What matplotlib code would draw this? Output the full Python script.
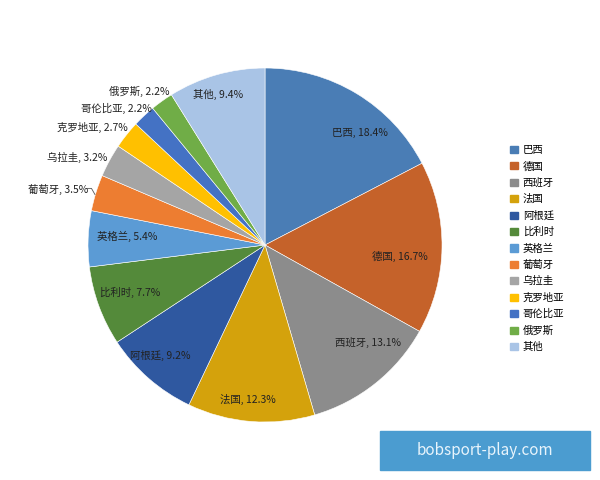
import numpy as np
import matplotlib
matplotlib.use('Agg')
import matplotlib.pyplot as plt
from matplotlib.patches import Rectangle

plt.rcParams['font.family'] = ['Noto Sans CJK SC', 'DejaVu Sans']

COUNTRIES = ['巴西', '德国', '西班牙', '法国', '阿根廷', '比利时', '英格兰',
             '葡萄牙', '乌拉圭', '克罗地亚', '哥伦比亚', '俄罗斯', '其他']
SHARES = [18.4, 16.7, 13.1, 12.3, 9.2, 7.7, 5.4, 3.5, 3.2, 2.7, 2.2, 2.2, 9.4]
COLORS = ['#4A7DB5', '#C5622A', '#8C8C8C', '#D4A20C', '#2F58A0', '#548A3A',
          '#5B9BD5', '#ED7D31', '#A5A5A5', '#FFC000', '#4472C4', '#70AD47',
          '#A9C4E6']

# label placement: radius (pie units) and angle shift from the wedge middle;
# radius > 1 means outside label, right aligned
LABEL_R = [0.83, 0.765, 0.80, 0.88, 0.86, 0.81, 0.78, 1.0, 1.02, 1.02, 1.0, 1.02, 0.89]
LABEL_SHIFT = [-8.8, -3.8, 8.0, -1.7, -2.3, -1.0, -1.6, -1.3, -0.6, -1.9, -3.5, -3.7, 1.5]


def draw():
	fig = plt.figure(figsize=(6, 4.8), dpi=100)
	ax = fig.add_axes([0.1467, 0.1208, 0.59, 0.7375])
	wedges, _ = ax.pie(SHARES, colors=COLORS, startangle=90, counterclock=False,
					   wedgeprops=dict(edgecolor='white', linewidth=0.4))
	ax.set_xlim(-1, 1)
	ax.set_ylim(-1, 1)
	ax.set_aspect('equal')
	ax.axis('off')

	for w, name, val, r, shift in zip(wedges, COUNTRIES, SHARES, LABEL_R, LABEL_SHIFT):
		mid = np.deg2rad((w.theta1 + w.theta2) / 2 + shift)
		x, y = r * np.cos(mid), r * np.sin(mid)
		txt = '%s, %.1f%%' % (name, val)
		if r >= 1:
			if name == '葡萄牙':
				x -= 0.05
			ax.text(x, y, txt, ha='right', va='center', fontsize=7.5, color='#222222')
		else:
			ax.text(x, y, txt, ha='center', va='center', fontsize=7.5, color='#222222')

	# leader line for Portugal
	w = wedges[COUNTRIES.index('葡萄牙')]
	mid = np.deg2rad((w.theta1 + w.theta2) / 2)
	ex, ey = 1.0 * np.cos(mid), 1.0 * np.sin(mid)
	ax.plot([ex - 0.055, ex - 0.025, ex - 0.005], [ey + 0.025, ey + 0.025, ey - 0.01],
			color='#555555', lw=0.6, clip_on=False)

	handles = [Rectangle((0, 0), 1, 1, color=c) for c in COLORS]
	fig.legend(handles, COUNTRIES, loc='center left', bbox_to_anchor=(0.835, 0.482),
			   frameon=False, fontsize=7.5, handlelength=0.7, handleheight=0.7,
			   handletextpad=0.5, labelspacing=0.6)

	# watermark box
	fig.patches.append(Rectangle((380 / 600, 1 - 470 / 480), 210 / 600, 39 / 480,
								 transform=fig.transFigure, color='#4B9CD0', zorder=5))
	fig.text(485 / 600, 1 - 450.5 / 480, 'bobsport-play.com', ha='center', va='center',
			 color='#E8F4FC', fontsize=11, zorder=6)

	fig.savefig('out.png', dpi=100)


if __name__ == '__main__':
	draw()
